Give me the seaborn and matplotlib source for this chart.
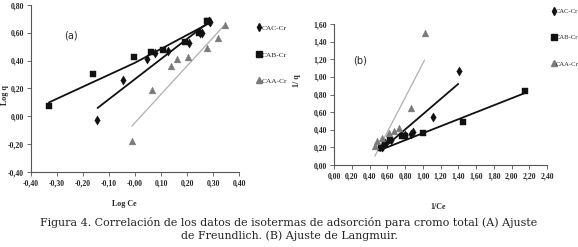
import numpy as np
import pandas as pd
import matplotlib
matplotlib.use("Agg")
import matplotlib.pyplot as plt
import matplotlib.ticker as mticker
from matplotlib.lines import Line2D
import seaborn as sns

sns.set_theme(style="white")
plt.rcParams['font.family'] = ['Liberation Serif', 'DejaVu Serif']

series = ["CAC-Cr", "CAB-Cr", "CAA-Cr"]

# Panel (a) Freundlich: log Ce vs log q
a_cac_x = [-0.148, -0.045, 0.048, 0.077, 0.125, 0.208, 0.249, 0.258, 0.283, 0.290]
a_cac_y = [-0.028, 0.258, 0.409, 0.452, 0.471, 0.529, 0.596, 0.596, 0.682, 0.680]
a_cab_x = [-0.331, -0.161, -0.002, 0.060, 0.106, 0.191, 0.246, 0.276, 0.282]
a_cab_y = [0.073, 0.303, 0.428, 0.459, 0.476, 0.534, 0.601, 0.687, 0.682]
a_caa_x = [-0.012, 0.066, 0.139, 0.163, 0.203, 0.276, 0.319, 0.345]
a_caa_y = [-0.177, 0.188, 0.363, 0.414, 0.428, 0.493, 0.562, 0.656]
# trend lines (a)
a_fit_cac_x = [-0.144, 0.281]
a_fit_cac_y = [0.060, 0.673]
a_fit_cab_x = [-0.331, 0.0, 0.281]
a_fit_cab_y = [0.100, 0.385, 0.665]
a_fit_caa_x = [-0.012, 0.341]
a_fit_caa_y = [-0.070, 0.649]

# Panel (b) Langmuir: 1/Ce vs 1/q
b_cac_x = [0.54, 0.57, 0.64, 0.80, 0.87, 0.89, 1.11, 1.41]
b_cac_y = [0.20, 0.25, 0.28, 0.34, 0.35, 0.38, 0.55, 1.07]
b_cab_x = [0.53, 0.57, 0.63, 0.77, 0.80, 1.00, 1.45, 2.15]
b_cab_y = [0.19, 0.24, 0.28, 0.33, 0.33, 0.36, 0.49, 0.84]
b_caa_x = [0.46, 0.49, 0.54, 0.62, 0.68, 0.73, 0.87, 1.03]
b_caa_y = [0.21, 0.27, 0.31, 0.36, 0.39, 0.42, 0.65, 1.50]
# trend lines (b)
b_fit_cac_x = [0.52, 1.40]
b_fit_cac_y = [0.16, 0.92]
b_fit_cab_x = [0.52, 2.16]
b_fit_cab_y = [0.17, 0.82]
b_fit_caa_x = [0.46, 1.02]
b_fit_caa_y = [0.10, 1.19]

caption = ("Figura 4. Correlación de los datos de isotermas de adsorción para cromo total (A) Ajuste\n"
           "de Freundlich. (B) Ajuste de Langmuir.")

markers = {"CAC-Cr": "d", "CAB-Cr": "s", "CAA-Cr": "^"}
palette = {"CAC-Cr": "#111111", "CAB-Cr": "#111111", "CAA-Cr": "#7a7a7a"}
sizes_m = {"CAC-Cr": 22, "CAB-Cr": 22, "CAA-Cr": 24}
line_col = {"CAC-Cr": "#111111", "CAB-Cr": "#111111", "CAA-Cr": "#b0b0b0"}
line_w = {"CAC-Cr": 1.3, "CAB-Cr": 1.3, "CAA-Cr": 0.9}


def make_df(xs, ys):
    rows = []
    for s, x, y in zip(series, xs, ys):
        for xi, yi in zip(x, y):
            rows.append((s, xi, yi))
    return pd.DataFrame(rows, columns=["serie", "x", "y"])


fig = plt.figure(figsize=(5.78, 2.47), dpi=100)
axA = fig.add_axes([31 / 578, 75 / 247, 208 / 578, 167 / 247])
axB = fig.add_axes([334 / 578, 82 / 247, 213 / 578, 141 / 247])

dfA = make_df([a_cac_x, a_cab_x, a_caa_x], [a_cac_y, a_cab_y, a_caa_y])
dfB = make_df([b_cac_x, b_cab_x, b_caa_x], [b_cac_y, b_cab_y, b_caa_y])
fitA = {"CAC-Cr": (a_fit_cac_x, a_fit_cac_y), "CAB-Cr": (a_fit_cab_x, a_fit_cab_y),
        "CAA-Cr": (a_fit_caa_x, a_fit_caa_y)}
fitB = {"CAC-Cr": (b_fit_cac_x, b_fit_cac_y), "CAB-Cr": (b_fit_cab_x, b_fit_cab_y),
        "CAA-Cr": (b_fit_caa_x, b_fit_caa_y)}


def comma(v, pos):
    return f"{v:.2f}".replace(".", ",")


for ax, df, fits in [(axA, dfA, fitA), (axB, dfB, fitB)]:
    for s in series:
        fx, fy = fits[s]
        sns.lineplot(x=fx, y=fy, ax=ax, color=line_col[s], lw=line_w[s],
                     sort=False, estimator=None, legend=False, zorder=2)
    for s in series:
        sub = df[df.serie == s]
        sns.scatterplot(data=sub, x="x", y="y", ax=ax, marker=markers[s],
                        color=palette[s], s=sizes_m[s], edgecolor=palette[s],
                        linewidth=0.3, legend=False, zorder=3)
    for sp in ["top", "right"]:
        ax.spines[sp].set_visible(False)
    for sp in ["left", "bottom"]:
        ax.spines[sp].set_color("#555555")
        ax.spines[sp].set_linewidth(0.8)
    ax.xaxis.set_major_formatter(mticker.FuncFormatter(comma))
    ax.yaxis.set_major_formatter(mticker.FuncFormatter(comma))
    ax.tick_params(axis="both", which="major", length=3, width=0.6, color="#555555",
                   labelsize=5.6, pad=2, direction="out", bottom=True, left=True)
    for lab in ax.get_xticklabels() + ax.get_yticklabels():
        lab.set_fontweight("bold")

axA.set_xlim(-0.40, 0.40)
axA.set_ylim(-0.40, 0.80)
axA.set_xticks(np.arange(-0.4, 0.41, 0.1))
axA.set_yticks(np.arange(-0.4, 0.81, 0.2))
axA.set_xlabel("Log Ce", fontsize=5.8, fontweight="bold")
axA.set_ylabel("Log q", fontsize=5.8, fontweight="bold")
axA.xaxis.set_label_coords(0.45, -0.17)
axA.yaxis.set_label_coords(-0.105, 0.46)
axA.text(0.16, 0.8, "(a)", transform=axA.transAxes, fontsize=7, family="DejaVu Sans")

axB.set_xlim(0, 2.40)
axB.set_ylim(0, 1.60)
axB.set_xticks(np.arange(0, 2.41, 0.2))
axB.set_yticks(np.arange(0, 1.61, 0.2))
axB.set_xlabel("1/Ce", fontsize=5.8, fontweight="bold")
axB.set_ylabel("1/ q", fontsize=5.8, fontweight="bold")
axB.xaxis.set_label_coords(0.49, -0.27)
axB.yaxis.set_label_coords(-0.155, 0.6)
axB.text(0.09, 0.72, "(b)", transform=axB.transAxes, fontsize=7, family="DejaVu Sans")

# legends
handles = [Line2D([], [], ls="none", marker=markers[s], color=palette[s],
               markersize=4) for s in series]
legA = axA.legend(handles, series, loc="upper left", bbox_to_anchor=(253 / 578, 1 - 21 / 247),
                  bbox_transform=fig.transFigure, frameon=False, fontsize=5.4,
                  handlelength=0.5, handletextpad=0.15, labelspacing=2.7, borderpad=0)
legB = axB.legend(handles, series, loc="upper left", bbox_to_anchor=(549 / 578, 1 - 5 / 247),
                  bbox_transform=fig.transFigure, frameon=False, fontsize=4.8,
                  handlelength=0.4, handletextpad=0.1, labelspacing=3.1, borderpad=0)

fig.text(289 / 578, 1 - 229 / 247, caption, ha="center", va="center", fontsize=7.9,
         family=["DejaVu Serif"], linespacing=1.3, color="#222222")

fig.savefig("out.png", dpi=100)
